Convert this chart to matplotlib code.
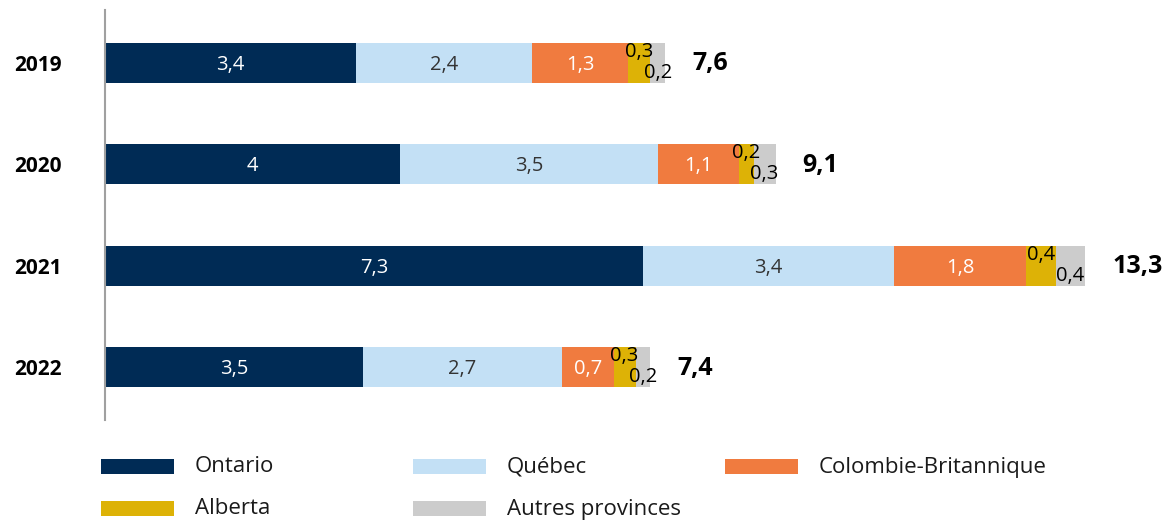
import numpy as np
import matplotlib.pyplot as plt
from matplotlib.patches import Rectangle

plt.rcParams['font.family'] = ['Open Sans', 'DejaVu Sans']

annees = ["2019", "2020", "2021", "2022"]
provinces = ["Ontario", "Québec", "Colombie-Britannique", "Alberta", "Autres provinces"]
ontario = [3.4, 4.0, 7.3, 3.5]
quebec = [2.4, 3.5, 3.4, 2.7]
colombie = [1.3, 1.1, 1.8, 0.7]
alberta = [0.3, 0.2, 0.4, 0.3]
autres = [0.2, 0.3, 0.4, 0.2]
totaux = [7.6, 9.1, 13.3, 7.4]

couleurs = ["#002B55", "#C3E0F5", "#F07B3F", "#DDB206", "#CCCCCC"]
couleurs_texte = ["white", "#333333", "white", "black", "black"]
# petits segments : etiquette decalee vers le haut / le bas (en pixels)
decalage = [-2, -2, -2, 11, -10]

def fmt(v):
    s = f"{v:.1f}".replace(".", ",")
    return s[:-2] if s.endswith(",0") else s

fig = plt.figure(figsize=(11.71, 5.21), dpi=100)
ax = fig.add_axes([105 / 1171, 1 - 420 / 521, 1 - 105 / 1171, 410 / 521])

y = np.arange(len(annees))
series = [ontario, quebec, colombie, alberta, autres]
gauche = np.zeros(len(annees))
for serie, coul, ctxt, dy in zip(series, couleurs, couleurs_texte, decalage):
    vals = np.array(serie)
    ax.barh(y, vals, left=gauche, height=0.39, color=coul, edgecolor="none")
    for yi, (g, v) in enumerate(zip(gauche, vals)):
        ax.annotate(fmt(v), (g + v / 2, yi), xytext=(0, dy), textcoords="offset pixels",
                    ha="center", va="center", fontsize=14.5, color=ctxt)
    gauche += vals

for yi, t in enumerate(totaux):
    ax.annotate(fmt(t), (gauche[yi], yi), xytext=(27, -1), textcoords="offset pixels",
                ha="left", va="center", fontsize=18, fontweight="bold", color="black")

ax.set_xlim(0, (1171 - 105) / 73.7)
ax.set_ylim(3.52, -0.52)
ax.set_yticks(y)
ax.set_yticklabels(annees, fontsize=15, fontweight="bold")
ax.tick_params(axis="y", length=0, pad=31)
ax.set_xticks([])
for s in ["top", "right", "bottom"]:
    ax.spines[s].set_visible(False)
ax.spines["left"].set_color("#A0A0A0")
ax.spines["left"].set_linewidth(1.5)

# legende en grille 3 colonnes
W, H = 1171, 521
for i, (nom, coul) in enumerate(zip(provinces, couleurs)):
    col, lig = i % 3, i // 3
    x0 = 101 + col * 312
    yc = 466 + lig * 42
    fig.add_artist(Rectangle((x0 / W, 1 - (yc + 7.5) / H), 73 / W, 15 / H,
                             transform=fig.transFigure, color=coul, lw=0))
    fig.text((x0 + 94) / W, 1 - (yc + 1) / H, nom, ha="left", va="center", fontsize=16, color="#1a1a1a")

fig.savefig("out.png", dpi=100)
